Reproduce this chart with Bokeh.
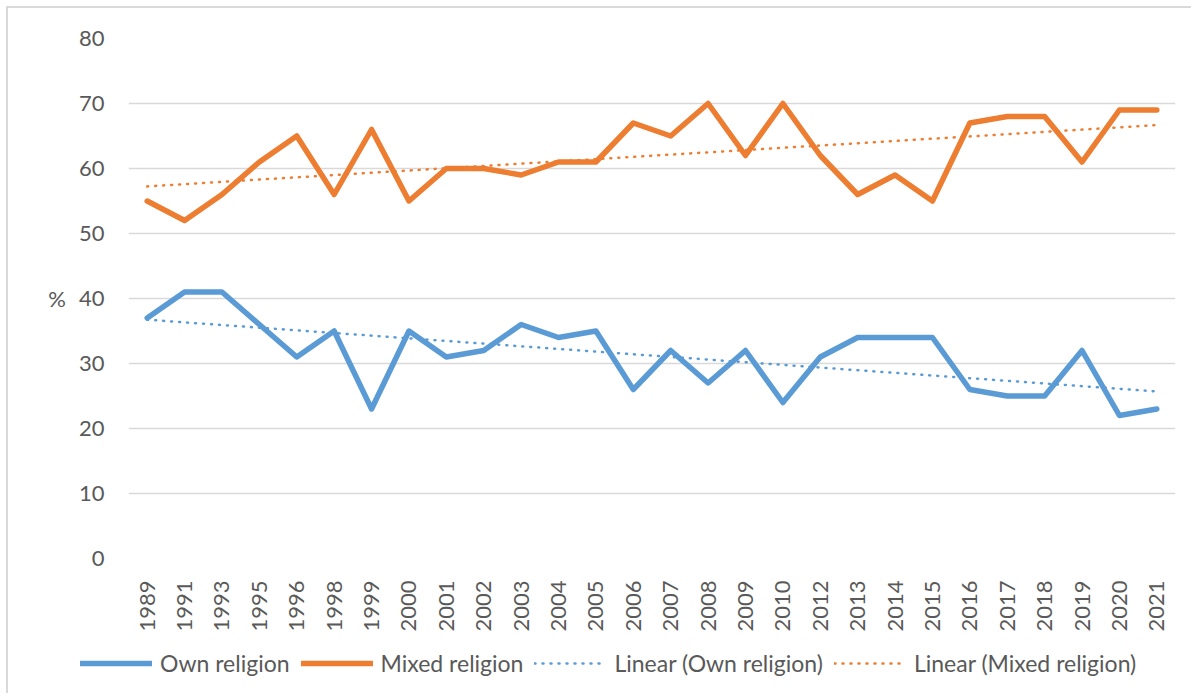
import numpy as np
from bokeh.plotting import figure
from bokeh.layouts import column
from bokeh.models import FactorRange, Range1d, Legend, LegendItem, FixedTicker
from bokeh.embed import file_html
from bokeh.resources import INLINE

years = ["1989", "1991", "1993", "1995", "1996", "1998", "1999", "2000", "2001", "2002",
         "2003", "2004", "2005", "2006", "2007", "2008", "2009", "2010", "2012", "2013",
         "2014", "2015", "2016", "2017", "2018", "2019", "2020", "2021"]
own_religion = [37, 41, 41, 36, 31, 35, 23, 35, 31, 32, 36, 34, 35, 26, 32, 27, 32, 24,
                31, 34, 34, 34, 26, 25, 25, 32, 22, 23]
mixed_religion = [55, 52, 56, 61, 65, 56, 66, 55, 60, 60, 59, 61, 61, 67, 65, 70, 62, 70,
                  62, 56, 59, 55, 67, 68, 68, 61, 69, 69]
y_ticks = [0, 10, 20, 30, 40, 50, 60, 70, 80]
series_labels = ["Own religion", "Mixed religion", "Linear (Own religion)", "Linear (Mixed religion)"]

BLUE = "#5b9bd5"
ORANGE = "#ed7d31"
GREY_TEXT = "#595959"
GRID = "#d9d9d9"
FONT = "Lato"
FS = "22px"
BORDER = "2px solid #d9d9d9"

# linear trend lines (least squares on category index, as Excel does)
idx = np.arange(len(years))
own_trend = np.polyval(np.polyfit(idx, own_religion, 1), idx)
mixed_trend = np.polyval(np.polyfit(idx, mixed_religion, 1), idx)

styles = [
    dict(line_color=BLUE, line_width=5.5, line_join="round", line_cap="round"),
    dict(line_color=ORANGE, line_width=5.5, line_join="round", line_cap="round"),
    dict(line_color=BLUE, line_width=2.5, line_dash="1 7", line_cap="round"),
    dict(line_color=ORANGE, line_width=2.5, line_dash="1 7", line_cap="round"),
]

p = figure(x_range=FactorRange(*years), y_range=Range1d(0, 80),
           width=1185, height=627, output_backend="svg", toolbar_location=None,
           min_border_left=120, min_border_top=30, min_border_right=18,
           min_border_bottom=77)
p.styles = {"margin-left": "6px", "margin-top": "6px", "border-top": BORDER, "border-left": BORDER}
p.outline_line_color = None
p.background_fill_color = "white"
p.border_fill_color = "white"

p.xgrid.visible = False
p.ygrid.grid_line_color = GRID
p.ygrid.grid_line_width = 1.3
p.yaxis.ticker = FixedTicker(ticks=y_ticks)

for ax in (p.xaxis[0], p.yaxis[0]):
    ax.axis_line_color = None
    ax.major_tick_line_color = None
    ax.minor_tick_line_color = None
    ax.major_label_text_color = GREY_TEXT
    ax.major_label_text_font = FONT
    ax.major_label_text_font_size = FS

p.yaxis.major_label_standoff = 18
p.yaxis.axis_label = "%"
p.yaxis.axis_label_orientation = "horizontal"
p.yaxis.axis_label_text_font = FONT
p.yaxis.axis_label_text_font_size = FS
p.yaxis.axis_label_text_font_style = "normal"
p.yaxis.axis_label_text_color = GREY_TEXT
p.yaxis.axis_label_standoff = 10

p.xaxis.major_label_orientation = np.pi / 2
p.xaxis.major_label_standoff = 16

for ys, st in zip([own_religion, mixed_religion, own_trend, mixed_trend], styles):
    p.line(years, ys, **st)

# legend strip below the chart (own small figure so it is not clipped)
lg = figure(x_range=Range1d(0, 1), y_range=Range1d(0, 1), width=1185, height=60,
            output_backend="svg", toolbar_location=None,
            x_axis_type=None, y_axis_type=None,
            min_border_left=0, min_border_right=0, min_border_top=0, min_border_bottom=0)
if "frame_align" in lg.properties():
    lg.frame_align = False
    p.frame_align = False
lg.styles = {"margin-left": "6px", "border-left": BORDER}
lg.outline_line_color = None
lg.grid.visible = False
lg.border_fill_color = "white"
lg.background_fill_color = "white"
items = []
for lab, st in zip(series_labels, styles):
    r = lg.line(x=[np.nan], y=[np.nan], **st)
    items.append(LegendItem(label=lab, renderers=[r]))

legend = Legend(items=items, orientation="horizontal", location=(72, 16))
legend.border_line_color = None
legend.background_fill_alpha = 0
legend.label_text_font = FONT
legend.label_text_font_size = "23px"
legend.label_text_color = GREY_TEXT
legend.glyph_width = 72
legend.glyph_height = 20
legend.label_standoff = 8
legend.spacing = 11
legend.padding = 0
legend.margin = 0
lg.add_layout(legend, "center")

layout = column(p, lg, spacing=0)
open("out.html", "w").write(file_html(layout, INLINE))
